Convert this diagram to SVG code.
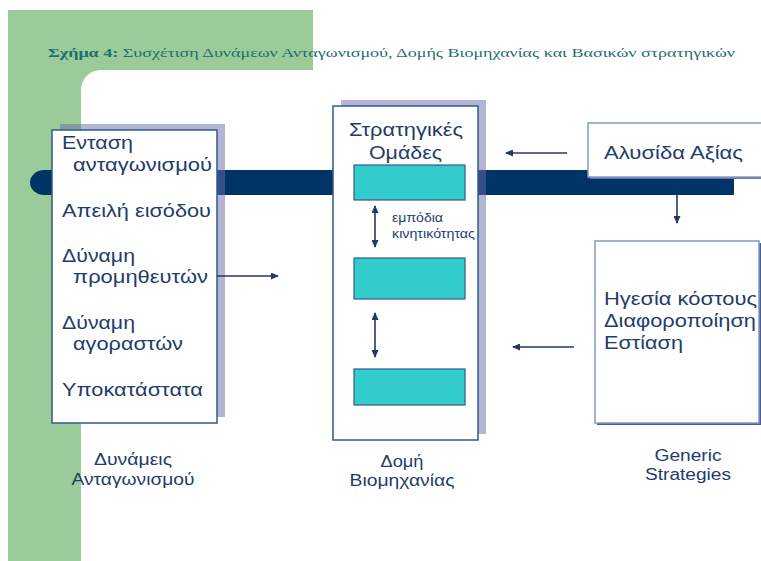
<svg xmlns="http://www.w3.org/2000/svg" width="761" height="561" viewBox="0 0 761 561">
<defs>
<marker id="ah" viewBox="0 0 8 7" refX="7" refY="3.5" markerWidth="8" markerHeight="7" markerUnits="userSpaceOnUse" orient="auto-start-reverse">
<path d="M0,0 L8,3.5 L0,7 z" fill="#1F3A6A"/>
</marker>
<style>
.t{font-family:"Liberation Sans",Arial,sans-serif;fill:#1F3C6C;}
.b{font-size:19px;}
.s{font-size:12px;}
.l{font-size:16px;}
.box{fill:#fff;stroke:#2F5A8A;stroke-width:1.5;}
.shadow{fill:#6A6AA8;fill-opacity:0.5;}
.teal{fill:#33CCCC;stroke:#2F5A8A;stroke-width:1.2;}
.c{stroke:#1F3A6A;stroke-width:1.6;fill:none;}
</style>
</defs>
<rect width="761" height="561" fill="#fff"/>
<path d="M8,10 H313 V70 H101 A20,20 0 0 0 81,90 V561 H8 Z" fill="#9ACB98"/>
<text x="48" y="57" font-family="'Liberation Serif','Times New Roman',serif" font-size="13" fill="#1F6E6E" textLength="687" lengthAdjust="spacingAndGlyphs"><tspan font-weight="bold">Σχήμα 4:</tspan> Συσχέτιση Δυνάμεων Ανταγωνισμού, Δομής Βιομηχανίας και Βασικών στρατηγικών</text>
<g id="bar">
<ellipse cx="44" cy="182.5" rx="14" ry="12.5" fill="#003366"/>
<rect x="44" y="170" width="690" height="25" fill="#003366"/>
</g>
<g id="forces">
<rect class="shadow" x="60" y="124" width="165" height="293"/>
<rect class="box" x="52" y="130" width="165" height="293"/>
<text class="t b" x="62" y="149" textLength="71" lengthAdjust="spacingAndGlyphs">Ενταση</text>
<text class="t b" x="73" y="171" textLength="139" lengthAdjust="spacingAndGlyphs">ανταγωνισμού</text>
<text class="t b" x="62" y="217" textLength="149" lengthAdjust="spacingAndGlyphs">Απειλή εισόδου</text>
<text class="t b" x="62" y="262" textLength="73" lengthAdjust="spacingAndGlyphs">Δύναμη</text>
<text class="t b" x="73" y="283" textLength="135" lengthAdjust="spacingAndGlyphs">προμηθευτών</text>
<text class="t b" x="62" y="329" textLength="73" lengthAdjust="spacingAndGlyphs">Δύναμη</text>
<text class="t b" x="73" y="350" textLength="110" lengthAdjust="spacingAndGlyphs">αγοραστών</text>
<text class="t b" x="62" y="396" textLength="141" lengthAdjust="spacingAndGlyphs">Υποκατάστατα</text>
</g>
<g id="structure">
<rect class="shadow" x="341" y="100" width="145" height="334"/>
<rect class="box" x="333" y="106" width="145" height="334"/>
<text class="t b" x="349" y="136" textLength="114" lengthAdjust="spacingAndGlyphs">Στρατηγικές</text>
<text class="t b" x="369" y="159" textLength="73" lengthAdjust="spacingAndGlyphs">Ομάδες</text>
<rect class="teal" x="354" y="165" width="111" height="35"/>
<rect class="teal" x="354" y="258" width="111" height="41"/>
<rect class="teal" x="354" y="369" width="111" height="36"/>
<text class="t s" x="392" y="222" textLength="51" lengthAdjust="spacingAndGlyphs">εμπόδια</text>
<text class="t s" x="392" y="238" textLength="83" lengthAdjust="spacingAndGlyphs">κινητικότητας</text>
</g>
<g id="valuechain">
<rect x="590" y="125" width="180" height="54" fill="#7070A8"/>
<rect x="588" y="123" width="180" height="54" fill="#fff" stroke="#7F9CC0" stroke-width="1.5"/>
<text class="t b" x="604" y="159" textLength="139" lengthAdjust="spacingAndGlyphs">Αλυσίδα Αξίας</text>
</g>
<g id="generic">
<rect x="597" y="243" width="164" height="182" fill="#4A5A9A"/>
<rect x="595" y="241" width="164" height="182" fill="#fff" stroke="#7F9CC0" stroke-width="1.5"/>
<text class="t b" x="604" y="305" textLength="153" lengthAdjust="spacingAndGlyphs">Ηγεσία κόστους</text>
<text class="t b" x="604" y="327" textLength="152" lengthAdjust="spacingAndGlyphs">Διαφοροποίηση</text>
<text class="t b" x="604" y="349" textLength="79" lengthAdjust="spacingAndGlyphs">Εστίαση</text>
</g>
<g id="labels">
<text class="t l" x="133" y="465" text-anchor="middle" textLength="78" lengthAdjust="spacingAndGlyphs">Δυνάμεις</text>
<text class="t l" x="133" y="485" text-anchor="middle" textLength="123" lengthAdjust="spacingAndGlyphs">Ανταγωνισμού</text>
<text class="t l" x="402" y="467" text-anchor="middle" textLength="43" lengthAdjust="spacingAndGlyphs">Δομή</text>
<text class="t l" x="402" y="486" text-anchor="middle" textLength="105" lengthAdjust="spacingAndGlyphs">Βιομηχανίας</text>
<text class="t l" x="688" y="461" text-anchor="middle" textLength="67" lengthAdjust="spacingAndGlyphs">Generic</text>
<text class="t l" x="688" y="480" text-anchor="middle" textLength="86" lengthAdjust="spacingAndGlyphs">Strategies</text>
</g>
<g id="connectors">
<line class="c" x1="217" y1="276" x2="278" y2="276" marker-end="url(#ah)"/>
<line class="c" x1="567" y1="153" x2="506" y2="153" marker-end="url(#ah)"/>
<line class="c" x1="677" y1="195" x2="677" y2="223" marker-end="url(#ah)"/>
<line class="c" x1="574" y1="347" x2="513" y2="347" marker-end="url(#ah)"/>
<line class="c" x1="375" y1="206" x2="375" y2="247" marker-start="url(#ah)" marker-end="url(#ah)"/>
<line class="c" x1="375" y1="313" x2="375" y2="357" marker-start="url(#ah)" marker-end="url(#ah)"/>
</g>
</svg>
